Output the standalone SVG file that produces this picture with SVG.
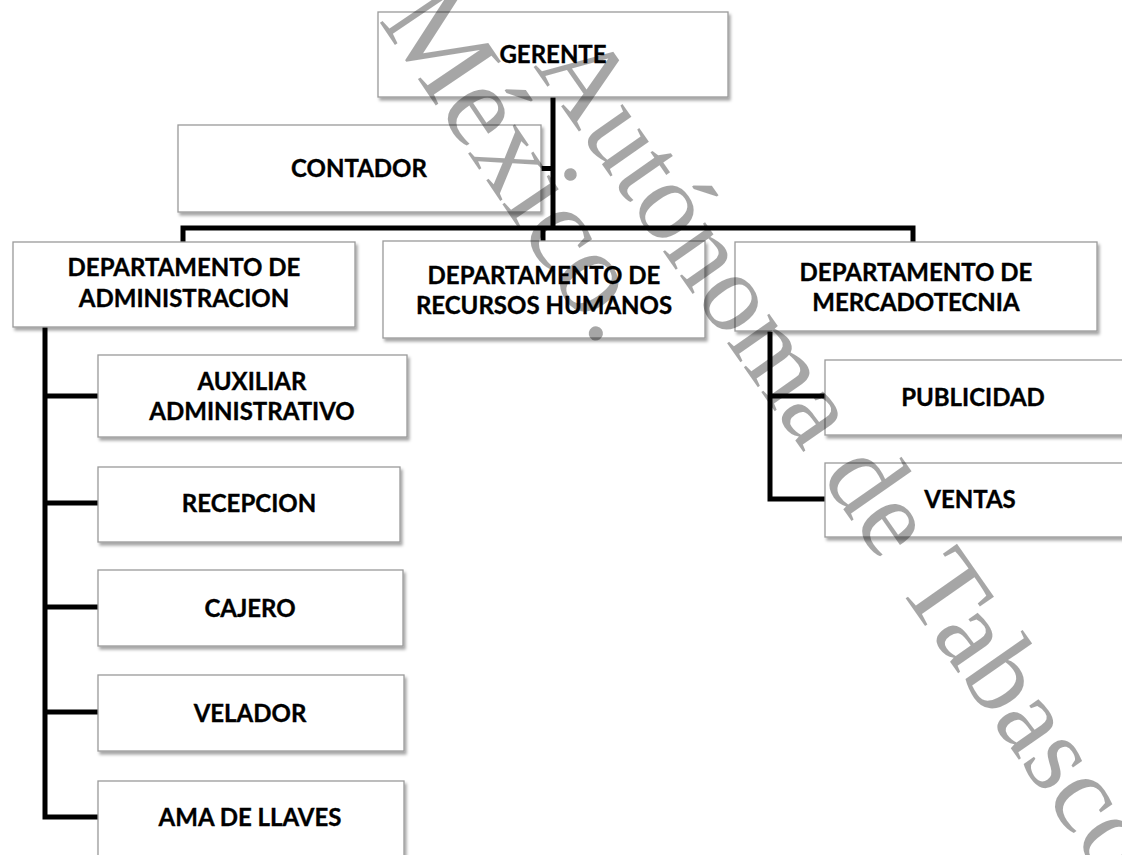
<svg xmlns="http://www.w3.org/2000/svg" width="1122" height="855" viewBox="0 0 1122 855">
<defs>
<filter id="sh" x="-5%" y="-10%" width="115%" height="130%">
<feDropShadow dx="2" dy="3" stdDeviation="1.6" flood-color="#000" flood-opacity="0.35"/>
</filter>
<style>
.box{fill:#fff;stroke:#9a9a9a;stroke-width:1.3;filter:url(#sh)}
.lbl{font-family:Lato,"Liberation Sans",sans-serif;font-weight:700;font-size:24px;fill:#000;stroke:#000;stroke-width:0.35;text-anchor:middle}
.conn{stroke:#000;stroke-width:5;fill:none;stroke-linejoin:miter;stroke-linecap:butt}
.wm{font-family:"Liberation Serif","Times New Roman",serif;fill:#000;fill-opacity:0.35}
</style>
</defs>
<rect width="1122" height="855" fill="#fff"/>
<g id="connectors">
<path class="conn" d="M553 97 V228"/>
<path class="conn" d="M541 168.5 H555"/>
<path class="conn" d="M183 242 V228 H913 V242"/>
<path class="conn" d="M543 228 V241"/>
<path class="conn" d="M45 327 V817 H98"/>
<path class="conn" d="M45 396 H98 M45 503 H98 M45 607 H98 M45 712 H98"/>
<path class="conn" d="M770 331 V499 H825 M770 396 H825"/>
</g>
<g id="gerente"><rect class="box" x="378" y="12" width="350" height="85"/><text class="lbl" x="553" y="63">GERENTE</text></g>
<g id="contador"><rect class="box" x="178" y="125" width="363" height="87"/><text class="lbl" x="359" y="177">CONTADOR</text></g>
<g id="dep-admin"><rect class="box" x="13" y="242" width="342" height="85"/><text class="lbl" x="184" y="276">DEPARTAMENTO DE</text><text class="lbl" x="184" y="307">ADMINISTRACION</text></g>
<g id="dep-rrhh"><rect class="box" x="383" y="241" width="322" height="97"/><text class="lbl" x="544" y="284">DEPARTAMENTO DE</text><text class="lbl" x="544" y="314">RECURSOS HUMANOS</text></g>
<g id="dep-merc"><rect class="box" x="735" y="242" width="362" height="89"/><text class="lbl" x="916" y="281">DEPARTAMENTO DE</text><text class="lbl" x="916" y="311">MERCADOTECNIA</text></g>
<g id="auxiliar"><rect class="box" x="98" y="355" width="309" height="82"/><text class="lbl" x="252" y="390">AUXILIAR</text><text class="lbl" x="252" y="420">ADMINISTRATIVO</text></g>
<g id="recepcion"><rect class="box" x="98" y="467" width="302" height="75"/><text class="lbl" x="249" y="512">RECEPCION</text></g>
<g id="cajero"><rect class="box" x="98" y="570" width="305" height="76"/><text class="lbl" x="250" y="617">CAJERO</text></g>
<g id="velador"><rect class="box" x="98" y="675" width="306" height="76"/><text class="lbl" x="250" y="722">VELADOR</text></g>
<g id="ama"><rect class="box" x="98" y="781" width="306" height="82"/><text class="lbl" x="250" y="826">AMA DE LLAVES</text></g>
<g id="publicidad"><rect class="box" x="825" y="360" width="302" height="75"/><text class="lbl" x="973" y="406">PUBLICIDAD</text></g>
<g id="ventas"><rect class="box" x="825" y="463" width="302" height="74"/><text class="lbl" x="970" y="508">VENTAS</text></g>
<g id="watermark">
<text class="wm" font-size="112" transform="translate(533 66) rotate(55)">Autónoma de Tabasco</text>
<text class="wm" font-size="120" transform="translate(378 20) rotate(56)">México.</text>
</g>
</svg>
